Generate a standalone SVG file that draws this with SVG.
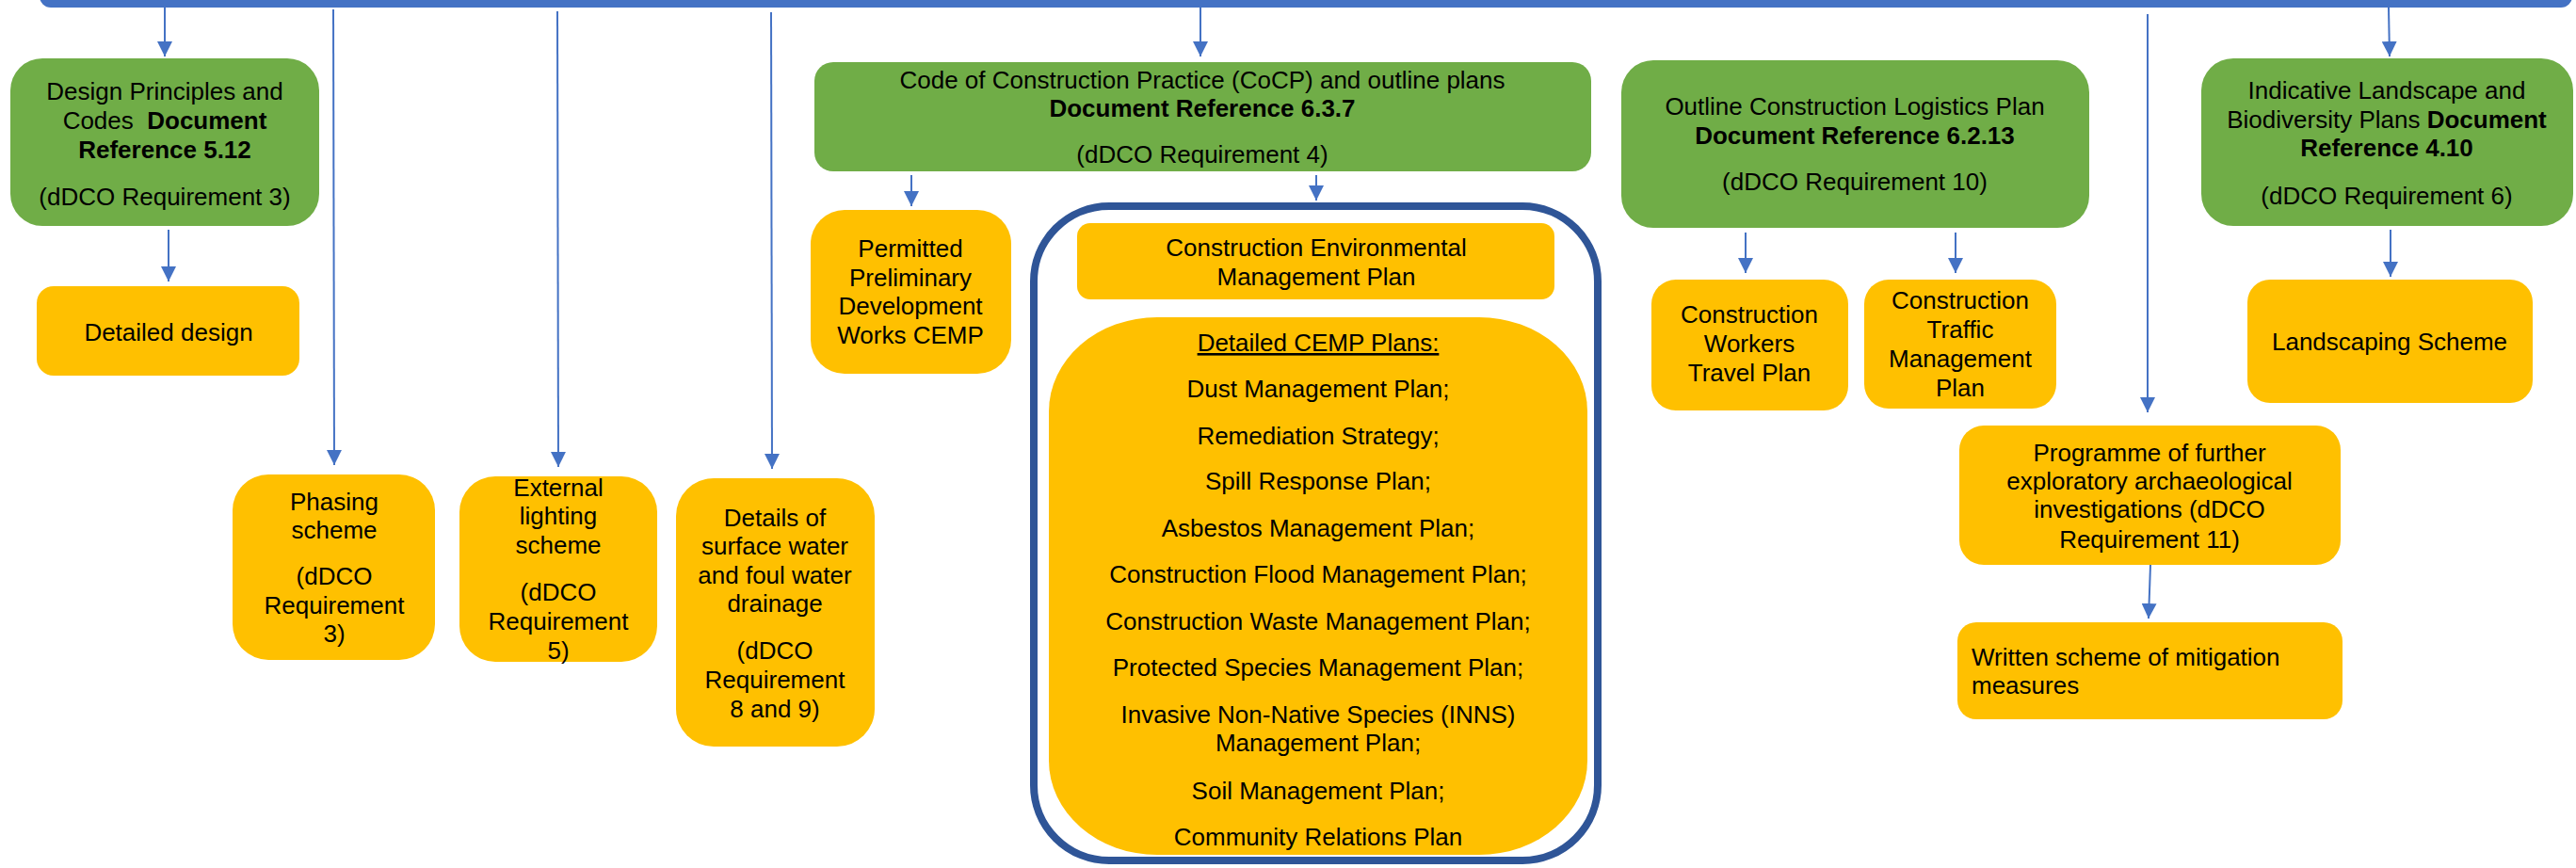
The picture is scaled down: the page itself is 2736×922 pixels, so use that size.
<svg xmlns="http://www.w3.org/2000/svg" width="2736" height="922" viewBox="0 0 2736 922">
<style>
text{font-family:"Liberation Sans",Arial,sans-serif;font-size:26px;fill:#000}
.c{text-anchor:middle}
.b{font-weight:bold}
.g{fill:#70AD47}
.y{fill:#FFC000}
.ln{stroke:#4472C4;stroke-width:2;fill:none;marker-end:url(#arr)}
</style>
<defs>
<marker id="arr" markerUnits="userSpaceOnUse" markerWidth="16" markerHeight="16" refX="16" refY="8" orient="auto">
<path d="M0,0 L16,8 L0,16 z" fill="#4472C4"/>
</marker>
</defs>
<rect x="42" y="-20" width="2690" height="28" rx="12" fill="#4472C4"/>
<g id="connectors">
<line class="ln" x1="175" y1="8" x2="175" y2="60"/>
<line class="ln" x1="354" y1="10" x2="355" y2="494"/>
<line class="ln" x1="592" y1="12" x2="593" y2="496"/>
<line class="ln" x1="819" y1="13" x2="820" y2="498"/>
<line class="ln" x1="1275" y1="8" x2="1275" y2="60"/>
<line class="ln" x1="2281" y1="15" x2="2281" y2="438"/>
<line class="ln" x1="2537" y1="8" x2="2538" y2="60"/>
<line class="ln" x1="179" y1="244" x2="179" y2="299"/>
<line class="ln" x1="968" y1="186" x2="968" y2="219"/>
<line class="ln" x1="1398" y1="186" x2="1398" y2="213"/>
<line class="ln" x1="1854" y1="247" x2="1854" y2="290"/>
<line class="ln" x1="2077" y1="247" x2="2077" y2="290"/>
<line class="ln" x1="2539" y1="244" x2="2539" y2="294"/>
<line class="ln" x1="2284" y1="600" x2="2282" y2="657"/>
</g>
<g id="design-principles">
<rect class="g" x="11" y="62" width="328" height="178" rx="34"/>
<text class="c" x="175" y="106">Design Principles and</text>
<text class="c" x="175" y="137" xml:space="preserve">Codes  <tspan class="b">Document</tspan></text>
<text class="c b" x="175" y="168">Reference 5.12</text>
<text class="c" x="175" y="218">(dDCO Requirement 3)</text>
</g>
<g id="detailed-design">
<rect class="y" x="39" y="304" width="279" height="95" rx="18"/>
<text class="c" x="179" y="362">Detailed design</text>
</g>
<g id="phasing">
<rect class="y" x="247" y="504" width="215" height="197" rx="38"/>
<text class="c" x="355" y="542">Phasing</text>
<text class="c" x="355" y="572">scheme</text>
<text class="c" x="355" y="621">(dDCO</text>
<text class="c" x="355" y="652">Requirement</text>
<text class="c" x="355" y="682">3)</text>
</g>
<g id="external-lighting">
<rect class="y" x="488" y="506" width="210" height="197" rx="38"/>
<text class="c" x="593" y="527">External</text>
<text class="c" x="593" y="557">lighting</text>
<text class="c" x="593" y="588">scheme</text>
<text class="c" x="593" y="638">(dDCO</text>
<text class="c" x="593" y="669">Requirement</text>
<text class="c" x="593" y="700">5)</text>
</g>
<g id="drainage">
<rect class="y" x="718" y="508" width="211" height="285" rx="40"/>
<text class="c" x="823" y="559">Details of</text>
<text class="c" x="823" y="589">surface water</text>
<text class="c" x="823" y="620">and foul water</text>
<text class="c" x="823" y="650">drainage</text>
<text class="c" x="823" y="700">(dDCO</text>
<text class="c" x="823" y="731">Requirement</text>
<text class="c" x="823" y="762">8 and 9)</text>
</g>
<g id="cocp">
<rect class="g" x="865" y="66" width="825" height="116" rx="20"/>
<text class="c" x="1277" y="94">Code of Construction Practice (CoCP) and outline plans</text>
<text class="c b" x="1277" y="124">Document Reference 6.3.7</text>
<text class="c" x="1277" y="173">(dDCO Requirement 4)</text>
</g>
<g id="ppdw-cemp">
<rect class="y" x="861" y="223" width="213" height="174" rx="36"/>
<text class="c" x="967" y="273">Permitted</text>
<text class="c" x="967" y="304">Preliminary</text>
<text class="c" x="967" y="334">Development</text>
<text class="c" x="967" y="365">Works CEMP</text>
</g>
<g id="cemp-container">
<rect x="1098" y="219" width="599" height="695" rx="80" fill="none" stroke="#2F5597" stroke-width="8"/>
</g>
<g id="cemp">
<rect class="y" x="1144" y="237" width="507" height="81" rx="14"/>
<text class="c" x="1398" y="272">Construction Environmental</text>
<text class="c" x="1398" y="303">Management Plan</text>
</g>
<g id="detailed-cemp">
<rect class="y" x="1114" y="337" width="572" height="571" rx="115" ry="100"/>
<text class="c" x="1400" y="373" text-decoration="underline">Detailed CEMP Plans:</text>
<text class="c" x="1400" y="422">Dust Management Plan;</text>
<text class="c" x="1400" y="472">Remediation Strategy;</text>
<text class="c" x="1400" y="520">Spill Response Plan;</text>
<text class="c" x="1400" y="570">Asbestos Management Plan;</text>
<text class="c" x="1400" y="619">Construction Flood Management Plan;</text>
<text class="c" x="1400" y="669">Construction Waste Management Plan;</text>
<text class="c" x="1400" y="718">Protected Species Management Plan;</text>
<text class="c" x="1400" y="768">Invasive Non-Native Species (INNS)</text>
<text class="c" x="1400" y="798">Management Plan;</text>
<text class="c" x="1400" y="849">Soil Management Plan;</text>
<text class="c" x="1400" y="898">Community Relations Plan</text>
</g>
<g id="oclp">
<rect class="g" x="1722" y="64" width="497" height="178" rx="34"/>
<text class="c" x="1970" y="122">Outline Construction Logistics Plan</text>
<text class="c b" x="1970" y="153">Document Reference 6.2.13</text>
<text class="c" x="1970" y="202">(dDCO Requirement 10)</text>
</g>
<g id="workers-travel">
<rect class="y" x="1754" y="297" width="209" height="139" rx="26"/>
<text class="c" x="1858" y="343">Construction</text>
<text class="c" x="1858" y="374">Workers</text>
<text class="c" x="1858" y="405">Travel Plan</text>
</g>
<g id="traffic-management">
<rect class="y" x="1980" y="297" width="204" height="137" rx="26"/>
<text class="c" x="2082" y="328">Construction</text>
<text class="c" x="2082" y="359">Traffic</text>
<text class="c" x="2082" y="390">Management</text>
<text class="c" x="2082" y="421">Plan</text>
</g>
<g id="landscape">
<rect class="g" x="2338" y="62" width="395" height="178" rx="34"/>
<text class="c" x="2535" y="105">Indicative Landscape and</text>
<text class="c" x="2535" y="136">Biodiversity Plans <tspan class="b">Document</tspan></text>
<text class="c b" x="2535" y="166">Reference 4.10</text>
<text class="c" x="2535" y="217">(dDCO Requirement 6)</text>
</g>
<g id="landscaping-scheme">
<rect class="y" x="2387" y="297" width="303" height="131" rx="24"/>
<text class="c" x="2538" y="372">Landscaping Scheme</text>
</g>
<g id="archaeology">
<rect class="y" x="2081" y="452" width="405" height="148" rx="26"/>
<text class="c" x="2283" y="490">Programme of further</text>
<text class="c" x="2283" y="520">exploratory archaeological</text>
<text class="c" x="2283" y="550">investigations (dDCO</text>
<text class="c" x="2283" y="582">Requirement 11)</text>
</g>
<g id="mitigation">
<rect class="y" x="2079" y="661" width="409" height="103" rx="20"/>
<text x="2094" y="707">Written scheme of mitigation</text>
<text x="2094" y="737">measures</text>
</g>
</svg>
